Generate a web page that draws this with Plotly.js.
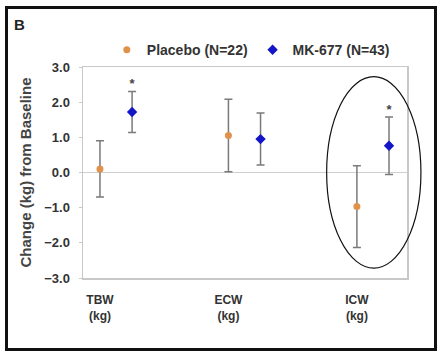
<!DOCTYPE html>
<html><head><meta charset="utf-8">
<script src="https://cdn.plot.ly/plotly-3.0.1.min.js"></script>
<style>
html,body{margin:0;padding:0;background:#fff;}
#wrap{position:relative;width:442px;height:354px;}
#chart{position:absolute;left:0;top:0;width:442px;height:354px;}
#frame{position:absolute;left:5px;top:6px;width:426px;height:339px;border:3px solid #111;pointer-events:none;}
#lab{position:absolute;left:14px;top:16px;font:bold 15px "Liberation Sans",Arial,sans-serif;color:#222;}
</style></head>
<body><div id="wrap"><div id="chart"></div><div id="frame"></div><div id="lab">B</div></div>
<script>
const categories = ["TBW<br>(kg)", "ECW<br>(kg)", "ICW<br>(kg)"];
const catPos = [1, 2, 3];
const mkOffset = 0.25;
const placeboMean = [0.10, 1.05, -0.97];
const placeboErr = [0.80, 1.03, 1.16];
const mkMean = [1.72, 0.95, 0.76];
const mkErr = [0.58, 0.74, 0.82];
const mkSig = ["*", "", "*"];
const yTicks = [-3, -2, -1, 0, 1, 2, 3];

const mkX = catPos.map(v => v + mkOffset);
const errStyle = {color: "#7a7a7a", thickness: 1.5, width: 4};
const font = {family: "Liberation Sans, Arial, sans-serif", color: "#333"};

const traces = [
  {x: catPos, y: placeboMean, name: "Placebo (N=22)", type: "scatter", mode: "markers",
   marker: {color: "#e0924c", size: 7, symbol: "circle"},
   error_y: Object.assign({type: "data", array: placeboErr, visible: true}, errStyle)},
  {x: mkX, y: mkMean, name: "MK-677 (N=43)", type: "scatter", mode: "markers",
   marker: {color: "#1414c8", size: 8, symbol: "diamond"},
   error_y: Object.assign({type: "data", array: mkErr, visible: true}, errStyle)},
  {x: mkX, y: mkMean.map((m, i) => m + mkErr[i]), text: mkSig, type: "scatter", mode: "text",
   textposition: "top center", showlegend: false, hoverinfo: "skip",
   textfont: {family: font.family, size: 13, color: "#444", weight: "bold"}}
];

const layout = {
  width: 442, height: 354,
  margin: {l: 83, r: 35, t: 67, b: 76},
  paper_bgcolor: "#fff", plot_bgcolor: "#fff",
  font: {family: font.family, size: 12, color: "#333"},
  showlegend: true,
  legend: {orientation: "h", x: 0.0735, y: 1.08, yanchor: "middle", xanchor: "left",
           font: {family: font.family, size: 14, color: "#333", weight: "bold"},
           itemwidth: 30, tracegroupgap: 0},
  xaxis: {range: [0.868, 3.39], tickvals: catPos, ticktext: categories, showgrid: false,
          zeroline: false, showline: true, linecolor: "#c8c8c8", linewidth: 1.5, mirror: true,
          ticks: "", ticklabelstandoff: 10, tickfont: {size: 12, color: "#333", weight: "bold"}},
  yaxis: {range: [-3, 3], tickvals: yTicks, tickformat: ".1f", showgrid: false,
          zeroline: true, zerolinecolor: "#cfcfcf", zerolinewidth: 1.5,
          showline: true, linecolor: "#c8c8c8", linewidth: 1.5, mirror: true,
          ticks: "outside", ticklen: 3, tickcolor: "#c8c8c8", ticklabelstandoff: 6,
          tickfont: {size: 13, color: "#333", weight: "bold"},
          title: {text: "Change (kg) from Baseline", standoff: 9,
                  font: {size: 15, color: "#444", weight: "bold"}}},
  shapes: [{type: "circle", xref: "paper", yref: "paper", x0: 0.752, x1: 1.043, y0: 0.047, y1: 0.954,
            line: {color: "#111", width: 1.2}}]
};
Plotly.newPlot("chart", traces, layout, {displayModeBar: false, staticPlot: true});
</script></body></html>
